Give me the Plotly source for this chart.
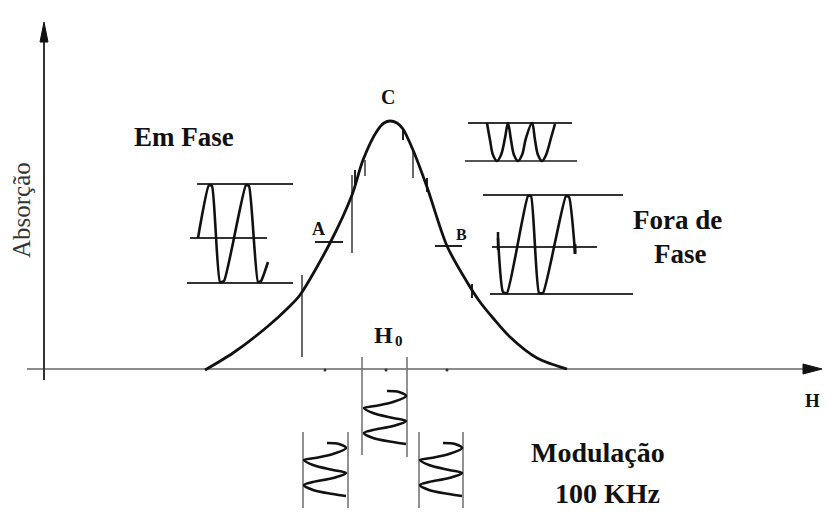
import plotly.graph_objects as go

# ---------------- data ----------------
# absorption curve: field H (arbitrary units) and absorption (arbitrary units)
H_field = [205, 233, 267, 290, 300, 330, 352, 363, 377, 384, 390, 397, 403, 413, 427, 447, 467, 480, 493, 510, 537, 567]
absorption = [0, 17, 43, 64, 75, 127, 175, 210, 239, 247, 249, 247, 241, 220, 183, 124, 88, 68, 52, 33, 12, 1]

# "Em Fase" detector signal (x, level)
em_fase_x = [198, 209, 212, 220, 224, 246, 249, 258, 261, 268]
em_fase_y = [132, 185, 184, 88, 89, 185, 184, 88, 89, 108]

# signal at the peak (C): rectified, double frequency
peak_sig_x = [487, 490, 493, 497, 501, 505, 508, 511, 514, 518, 522, 526, 532, 535, 538, 542, 546, 551, 555]
peak_sig_y = [247, 230, 215, 209, 215, 232, 247, 230, 215, 209, 215, 232, 247, 230, 215, 209, 215, 232, 246]

# "Fora de Fase" detector signal
fora_x = [498, 503, 507, 528, 531, 539, 543, 566, 569, 575]
fora_y = [132, 78, 77, 174, 174, 77, 77, 174, 173, 118]

# 100 kHz modulation wave (shape: horizontal swing, vertical progress)
mod_dx = [24, 36, 43, 30, 12, 1, 10, 30, 43, 30, 10, 1, 10, 30, 43]
mod_dy = [0, 1, 5, 11, 15, 17, 22, 27, 30, 35, 39, 42, 47, 51, 53]

BASE = 370  # pixel row of the H axis
PAGE_MARGIN = 8  # default browser body margin


def yp(py):
    return BASE - py


fig = go.Figure()

wave_line = dict(color="#111", width=2.6, shape="spline", smoothing=0.5)

fig.add_trace(go.Scatter(x=H_field, y=absorption, mode="lines",
                         line=dict(color="#111", width=2.8, shape="spline", smoothing=0.8),
                         hoverinfo="skip"))
fig.add_trace(go.Scatter(x=em_fase_x, y=em_fase_y, mode="lines", line=wave_line, hoverinfo="skip"))
fig.add_trace(go.Scatter(x=peak_sig_x, y=peak_sig_y, mode="lines",
                         line=dict(color="#111", width=2.6, shape="spline", smoothing=1.0), hoverinfo="skip"))
fig.add_trace(go.Scatter(x=fora_x, y=fora_y, mode="lines", line=wave_line, hoverinfo="skip"))

# modulation waves: left-line x and hook row
for x0, hook in [(303, 443), (363, 391), (419, 443)]:
    fig.add_trace(go.Scatter(x=[x0 + d for d in mod_dx],
                             y=[yp(hook + d) for d in mod_dy],
                             mode="lines", line=dict(color="#111", width=2.6, shape="spline", smoothing=1.0),
                             hoverinfo="skip"))

# x-axis tick dots
fig.add_trace(go.Scatter(x=[325, 386, 447], y=[0, 0, 0], mode="markers",
                         marker=dict(color="#333", size=3), hoverinfo="skip"))

shapes = []


def seg(x0, py0, x1, py1, color="#333", width=2):
    shapes.append(dict(type="line", x0=x0, x1=x1, y0=yp(py0), y1=yp(py1),
                       line=dict(color=color, width=width), layer="below"))


# axes
seg(27, 369, 810, 369, color="#8c8c8c", width=2)
seg(44, 380, 44, 35, color="#333", width=2)
shapes.append(dict(type="path", path=f"M 822 {yp(369)} L 803 {yp(364)} L 803 {yp(374)} Z",
                   fillcolor="#111", line=dict(color="#111", width=1)))
shapes.append(dict(type="path", path=f"M 44 {yp(22)} L 40 {yp(42)} L 48 {yp(42)} Z",
                   fillcolor="#111", line=dict(color="#111", width=1)))

# Em Fase reference lines
seg(197, 184, 293, 184)
seg(190, 238, 267, 238)
seg(187, 283, 293, 283)
# peak signal reference lines
seg(468, 123, 572, 123)
seg(465, 161, 577, 161, color="#555")
# Fora de Fase reference lines
seg(483, 195, 623, 195)
seg(492, 247, 597, 247)
seg(490, 294, 633, 294)
# A and B markers
seg(315, 242, 343, 242, color="#222")
seg(435, 246, 462, 246, color="#222")
seg(498, 232, 498, 250, color="#111", width=2.5)
seg(575, 244, 575, 254, color="#111", width=3)

# projection lines from the curve
seg(302, 275, 302, 357, color="#444", width=1.6)
seg(352, 175, 352, 253, color="#444", width=1.6)
seg(365, 160, 365, 176, color="#444", width=1.6)
seg(413, 150, 413, 178, color="#444", width=1.6)
seg(427, 178, 427, 192, color="#222", width=2)
seg(472, 284, 472, 298, color="#222", width=2)
seg(355, 170, 355, 186, color="#222", width=2)
seg(403, 128, 403, 140, color="#222", width=2)
# modulation boundary lines
seg(362, 357, 362, 455, color="#777", width=1.6)
seg(407, 357, 407, 457, color="#777", width=1.6)
seg(303, 432, 303, 508, color="#777", width=1.6)
seg(348, 432, 348, 508, color="#777", width=1.6)
seg(419, 432, 419, 508, color="#777", width=1.6)
seg(463, 432, 463, 508, color="#777", width=1.6)

FONT = "Liberation Serif"


def label(text, x, py, size, bold=True, angle=0, color="#111"):
    t = f"<b>{text}</b>" if bold else text
    return dict(text=t, x=x, y=yp(py), xref="x", yref="y", showarrow=False,
                xanchor="center", yanchor="middle", textangle=angle,
                font=dict(family=FONT, size=size, color=color))


annotations = [
    label("Em Fase", 184, 137, 27),
    label("C", 388, 97, 20),
    label("A", 318, 229, 18),
    label("B", 461, 234, 16),
    label("H", 383, 335, 24),
    label("0", 399, 341, 15),
    label("Fora de", 677, 220, 27),
    label("Fase", 680, 254, 27),
    label("H", 812, 400, 19),
    label("Modulação", 598, 452, 28),
    label("100 KHz", 607, 493, 28),
    label("Absorção", 21, 210, 25, bold=False, angle=-90, color="#333"),
]

W, H = 838, 518
fig.update_layout(
    width=W - 2 * PAGE_MARGIN, height=H - 2 * PAGE_MARGIN,
    margin=dict(l=0, r=0, t=0, b=0),
    paper_bgcolor="white", plot_bgcolor="white",
    showlegend=False,
    shapes=shapes, annotations=annotations,
    xaxis=dict(range=[PAGE_MARGIN, W - PAGE_MARGIN], visible=False, fixedrange=True),
    yaxis=dict(range=[yp(H - PAGE_MARGIN), yp(PAGE_MARGIN)], visible=False, fixedrange=True),
)

fig.write_html("out.html")
